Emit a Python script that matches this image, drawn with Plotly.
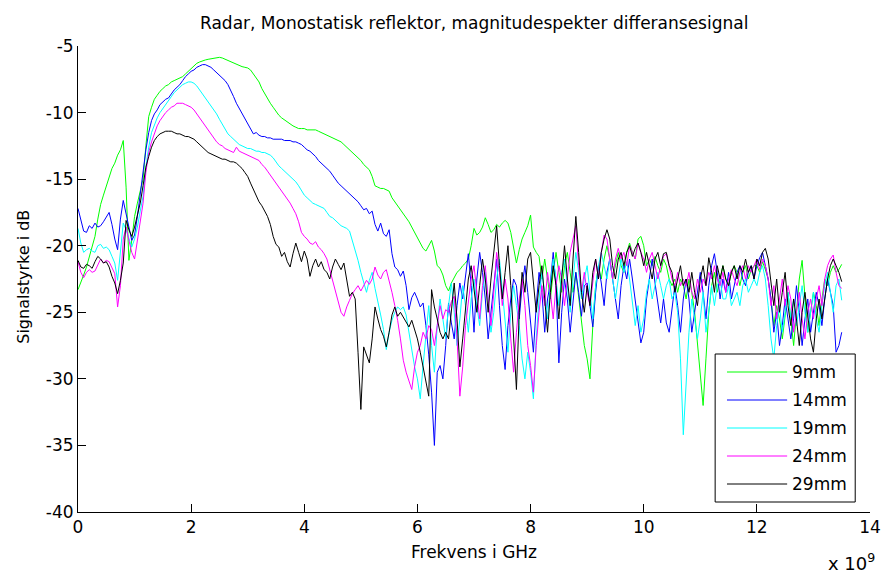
import numpy as np
import plotly.graph_objects as go

# Frequency grid: 0 .. 13.5 GHz in 0.05 GHz steps (values in Hz)
freq_hz = np.arange(271) * 0.05e9

series_names = ["9mm", "14mm", "19mm", "24mm", "29mm"]
series_colors = ["#00ff00", "#0000ff", "#00ffff", "#ff00ff", "#000000"]

# Magnitude spectrum of the difference signal, dB (one row per GHz)
mag_9mm = [
    -23.3, -22.8, -22.2, -21.6, -20.8, -20.0, -19.3, -18.0, -16.9, -16.2, -15.5, -14.8, -14.2, -13.8, -13.2, -12.8, -12.1, -15.6, -21.1, -19.6,
    -17.8, -16.8, -15.8, -15.0, -12.5, -10.3, -9.6, -9.0, -8.7, -8.4, -8.2, -8.0, -7.9, -7.7, -7.6, -7.5, -7.4, -7.3, -7.1, -6.9,
    -6.7, -6.5, -6.3, -6.2, -6.1, -6.05, -6.0, -5.95, -5.9, -5.85, -5.85, -5.9, -6.0, -6.1, -6.2, -6.3, -6.4, -6.5, -6.55, -6.6,
    -6.65, -6.8, -7.1, -7.4, -7.7, -8.2, -8.6, -9.0, -9.3, -9.6, -9.9, -10.2, -10.4, -10.55, -10.75, -10.9, -11.0, -11.1, -11.2, -11.2,
    -11.2, -11.3, -11.3, -11.3, -11.3, -11.4, -11.5, -11.6, -11.7, -11.8, -11.9, -12.0, -12.1, -12.2, -12.4, -12.6, -12.8, -13.0, -13.2, -13.4,
    -13.6, -13.9, -14.1, -14.3, -14.8, -15.5, -15.6, -15.7, -15.7, -15.8, -15.9, -16.4, -16.7, -17.0, -17.3, -17.6, -17.9, -18.2, -18.6, -19.0,
    -19.5, -19.9, -20.2, -20.4, -20.0, -19.6, -20.4, -21.5, -21.7, -22.2, -23.0, -23.4, -22.8, -22.4, -22.0, -21.8, -21.5, -21.3, -21.0, -20.0,
    -18.7, -19.2, -19.0, -18.6, -17.9, -18.4, -19.0, -18.8, -18.4, -18.6, -18.3, -18.1, -18.3, -19.0, -20.2, -21.3, -20.3, -19.5, -19.0, -18.5,
    -17.7, -20.1, -20.5, -20.8, -22.5, -21.0, -22.5, -24.0, -22.0, -20.5, -22.0, -23.5, -21.5, -20.5, -22.0, -23.5, -22.0, -24.0, -26.0, -27.5,
    -28.5, -30.0, -26.0, -23.0, -21.5, -22.5, -21.0, -20.0, -21.0, -22.5, -21.5, -20.5, -21.5, -22.0, -20.5, -19.8, -20.5, -21.0, -19.5, -19.3,
    -20.0, -21.5, -21.0, -21.5, -20.8, -21.5, -22.0, -21.0, -21.5, -22.5, -23.0, -22.5, -23.5, -22.5, -23.0, -24.0, -22.5, -23.5, -25.0, -27.5,
    -29.5, -32.0, -28.5, -25.0, -23.0, -22.0, -23.5, -22.5, -21.5, -22.5, -23.0, -22.0, -21.5, -22.0, -23.0, -22.0, -21.5, -22.5, -21.8, -21.5,
    -21.5, -22.0, -21.2, -21.8, -22.5, -24.0, -26.0, -24.5, -25.5, -27.0, -25.0, -23.5, -25.5, -27.5, -25.0, -22.5, -21.1, -24.0, -26.5, -25.0,
    -23.5, -24.5, -26.0, -24.0, -22.5, -23.0, -22.0, -21.5, -22.0, -21.8, -21.4,
]

mag_14mm = [
    -17.2, -18.0, -18.9, -19.0, -18.5, -18.7, -18.3, -18.6, -18.5, -18.2, -17.8, -17.5, -18.4, -19.5, -20.3, -18.0, -16.6, -17.5, -18.6, -19.6,
    -19.2, -17.8, -16.0, -14.6, -12.8, -11.5, -10.6, -10.1, -9.8, -9.4, -9.2, -9.0, -8.9, -8.6, -8.3, -8.1, -7.9, -7.6, -7.3, -7.1,
    -6.9, -6.8, -6.6, -6.5, -6.4, -6.4, -6.5, -6.6, -6.8, -7.0, -7.2, -7.4, -7.6, -7.9, -8.3, -8.8, -9.3, -9.7, -10.1, -10.5,
    -10.9, -11.3, -11.6, -11.5, -11.7, -11.8, -11.8, -11.9, -11.9, -12.0, -12.0, -12.0, -12.0, -12.1, -12.1, -12.1, -12.2, -12.2, -12.3, -12.4,
    -12.6, -12.8, -12.9, -13.1, -13.3, -13.6, -13.8, -14.0, -14.2, -14.4, -14.7, -15.0, -15.3, -15.5, -15.7, -15.9, -16.1, -16.3, -16.5, -16.7,
    -17.0, -17.3, -17.2, -17.6, -17.4, -18.4, -18.9, -18.3, -19.1, -19.3, -18.8, -20.6, -21.6, -21.8, -22.3, -21.9, -23.0, -24.8, -23.9, -23.5,
    -24.0, -24.6, -24.3, -26.0, -28.2, -31.0, -35.0, -29.5, -29.0, -30.0, -27.5, -24.3, -25.8, -27.0, -24.5, -22.8, -24.0, -22.4, -20.6, -23.0,
    -26.5, -22.5, -20.5, -22.0, -24.0, -27.0, -25.0, -23.1, -21.0, -24.5, -27.5, -29.3, -26.0, -24.0, -22.5, -23.0, -25.5, -23.0, -21.5, -23.5,
    -26.0, -28.0, -24.5, -22.0, -23.5, -26.5, -24.0, -22.8, -20.5, -23.0, -28.8, -25.0, -22.5, -24.0, -26.5, -24.5, -22.0, -23.5, -25.3, -23.0,
    -22.8, -24.5, -26.1, -23.5, -21.5, -22.8, -24.5, -22.0, -21.0, -22.5, -24.0, -25.5, -23.0, -21.5, -22.5, -21.0, -22.5, -24.0, -25.5, -27.3,
    -26.5, -24.0, -22.5, -21.0, -22.8, -24.5, -25.8, -24.0, -25.8, -26.5, -24.5, -23.0, -24.5, -26.5, -24.0, -22.5, -24.0, -26.5, -25.0, -23.5,
    -22.0, -23.5, -25.5, -23.0, -21.5, -20.6, -22.0, -24.0, -22.5, -23.5, -22.0, -24.0, -23.1, -22.0, -21.5, -22.5, -23.0, -22.0, -21.5, -22.5,
    -21.5, -20.9, -20.5, -21.5, -22.5, -24.0, -26.5, -25.0, -27.5, -26.0, -24.0, -25.5, -27.0, -25.5, -23.0, -25.0, -27.5, -25.5, -24.0, -26.5,
    -25.0, -23.5, -24.5, -26.0, -24.0, -22.5, -23.5, -24.5, -28.0, -27.5, -26.5,
]

mag_19mm = [
    -18.7, -19.8, -20.5, -20.3, -20.2, -20.4, -20.5, -20.0, -19.9, -20.2, -20.1, -20.3, -20.8, -21.3, -22.6, -20.5, -18.3, -18.8, -19.5, -20.1,
    -19.5, -18.6, -17.4, -16.3, -14.1, -12.6, -11.5, -10.9, -10.4, -10.0, -9.7, -9.4, -9.1, -8.8, -8.5, -8.3, -8.1, -7.9, -7.8, -7.7,
    -7.7, -7.8, -8.0, -8.3, -8.6, -8.9, -9.2, -9.5, -9.8, -10.1, -10.5, -10.9, -11.3, -11.6, -11.8, -12.0, -12.2, -12.4, -12.5, -12.6,
    -12.7, -12.7, -12.8, -12.9, -12.9, -13.0, -13.0, -13.1, -13.2, -13.4, -13.7, -14.0, -14.2, -14.4, -14.6, -14.8, -15.0, -15.2, -15.5, -15.9,
    -16.2, -16.4, -16.6, -16.8, -16.9, -17.0, -17.1, -17.2, -17.5, -17.8, -17.9, -18.1, -18.3, -18.5, -18.6, -18.7, -18.9, -19.6, -20.4, -21.1,
    -22.0, -22.8, -23.5, -22.6, -22.0, -23.2, -24.1, -25.2, -26.3, -27.8, -26.5, -25.6, -25.0, -24.6, -24.8, -24.6, -25.2, -26.5, -27.5, -29.1,
    -30.0, -31.5, -29.0, -26.5, -24.5, -27.5, -29.5, -26.0, -24.0, -25.5, -27.0, -24.5, -22.8, -25.0, -27.5, -25.5, -23.0, -24.5, -26.5, -24.0,
    -22.5, -24.5, -26.0, -23.5, -22.0, -24.0, -26.5, -25.0, -22.5, -21.0, -23.5, -26.0, -28.0, -25.0, -23.0, -24.5, -26.0, -28.5, -30.0, -28.0,
    -29.5, -31.5, -27.0, -24.0, -22.0, -23.5, -25.5, -23.0, -21.0, -22.5, -24.5, -22.0, -21.0, -23.0, -25.0, -22.5, -20.5, -22.0, -24.0, -22.5,
    -21.5, -23.5, -25.5, -23.0, -21.5, -20.5, -21.5, -22.5, -21.0, -22.5, -24.0, -22.5, -21.0, -22.0, -21.2, -22.5, -24.5, -26.0, -24.5, -26.5,
    -25.5, -23.5, -22.5, -24.0, -23.0, -22.0, -23.0, -24.0, -23.0, -22.5, -24.0, -23.5, -25.0, -28.5, -34.2, -30.5, -26.5, -24.0, -25.5, -27.0,
    -25.5, -23.5, -26.5, -25.0, -23.0, -24.5, -23.0, -22.5, -24.0, -24.0, -23.0, -24.5, -24.0, -23.5, -24.5, -23.0, -22.5, -23.5, -23.0, -22.5,
    -23.0, -22.0, -21.5, -22.5, -24.5, -27.0, -28.5, -26.0, -24.5, -26.5, -25.0, -23.5, -25.5, -24.0, -26.0, -24.5, -23.0, -25.0, -26.5, -25.0,
    -23.5, -25.5, -26.5, -24.5, -23.0, -22.0, -23.5, -25.0, -23.0, -22.5, -24.1,
]

mag_24mm = [
    -21.2, -22.0, -22.4, -22.0, -21.8, -22.0, -21.9, -21.5, -21.0, -21.3, -21.1, -21.2, -21.6, -22.1, -24.6, -23.0, -19.5, -18.6, -19.6, -20.5,
    -21.0, -19.5, -18.1, -16.8, -14.5, -13.0, -12.2, -11.6, -11.0, -10.6, -10.3, -10.0, -9.8, -9.6, -9.5, -9.3, -9.3, -9.3, -9.4, -9.5,
    -9.6, -9.8, -10.1, -10.4, -10.7, -11.0, -11.3, -11.6, -11.9, -12.2, -12.4, -12.5, -12.7, -12.8, -12.9, -13.0, -12.6, -12.9, -13.0, -13.1,
    -13.2, -13.3, -13.4, -13.5, -13.6, -13.9, -14.1, -14.4, -14.7, -15.0, -15.3, -15.6, -15.9, -16.2, -16.5, -16.8, -17.2, -17.6, -18.2, -19.0,
    -19.3, -19.5, -19.8, -19.9, -19.7, -20.1, -20.3, -20.6, -21.0, -21.8, -22.5, -23.3, -24.2, -25.0, -25.3, -24.6, -24.1, -23.6, -23.3, -23.0,
    -23.4, -23.0, -22.6, -22.9, -22.5, -21.6, -22.2, -22.5, -22.0, -21.8, -22.6, -23.5, -24.5, -25.6, -27.0, -28.6, -29.5, -30.2, -30.8, -29.1,
    -28.0, -27.5, -26.5, -27.0, -26.0, -26.3, -27.5, -26.0, -24.5, -25.5, -24.8, -25.0, -24.2, -23.8, -27.0, -31.3, -29.1, -26.0, -24.0, -22.5,
    -21.5, -23.5, -25.5, -23.0, -21.5, -24.0, -26.0, -23.5, -20.5, -22.0, -24.5, -22.5, -24.0, -27.0, -29.5, -26.5, -24.0, -22.5, -24.5, -27.5,
    -29.0, -31.0, -27.5, -25.0, -23.0, -24.5, -22.0, -23.5, -25.5, -23.0, -21.5, -22.5, -24.5, -22.5, -20.5, -19.5, -18.5, -21.5, -23.5, -22.0,
    -23.5, -24.5, -22.5, -21.0, -22.5, -20.5, -19.2, -19.5, -21.0, -22.5, -21.0, -20.2, -21.0, -20.5, -21.5, -20.0, -20.5, -21.0, -19.8, -20.5,
    -21.0, -22.0, -21.0, -20.5, -21.5, -22.5, -21.5, -20.8, -20.6, -21.5, -22.5, -23.0, -22.0, -23.0, -22.5, -23.0, -22.0, -23.5, -24.0, -22.5,
    -23.5, -22.5, -23.0, -22.0, -22.5, -21.5, -22.5, -23.0, -22.0, -23.5, -22.5, -21.8, -22.5, -23.0, -22.0, -21.5, -22.5, -21.5, -22.0, -21.5,
    -21.0, -21.8, -21.0, -21.5, -22.5, -24.5, -23.0, -25.5, -24.0, -22.5, -24.5, -23.0, -24.0, -26.5, -25.0, -23.5, -25.5, -27.0, -25.0, -24.0,
    -25.5, -24.0, -23.0, -24.5, -22.5, -21.5, -21.0, -20.7, -22.0, -23.0, -23.2,
]

mag_29mm = [
    -21.1, -21.6, -21.7, -21.4, -21.5, -21.7, -21.2, -20.8, -21.0, -21.3, -21.2, -21.6, -22.3, -22.8, -23.6, -22.6, -21.3, -18.1, -18.8, -19.3,
    -18.6, -17.6, -16.8, -15.5, -14.1, -13.3, -12.6, -12.1, -11.8, -11.6, -11.5, -11.4, -11.4, -11.4, -11.5, -11.6, -11.6, -11.7, -11.8, -11.8,
    -11.9, -12.0, -12.2, -12.4, -12.6, -12.8, -13.0, -13.1, -13.2, -13.3, -13.4, -13.5, -13.5, -13.6, -13.7, -13.7, -13.8, -14.0, -14.2, -14.5,
    -14.8, -15.3, -15.8, -16.3, -16.7, -17.0, -17.4, -17.8, -18.4, -19.3, -19.9, -20.1, -20.8, -20.5, -21.2, -21.6, -20.6, -19.8, -20.5, -21.2,
    -20.4, -21.0, -22.3, -21.5, -21.0, -21.6, -21.2, -21.8, -22.0, -22.5, -21.6, -21.0, -21.4, -21.8, -21.3, -22.6, -23.8, -23.5, -24.0, -28.0,
    -32.3, -27.6, -28.2, -28.8, -27.0, -24.6, -25.5, -26.3, -26.8, -27.6, -26.5, -25.2, -24.6, -25.3, -25.0, -25.4, -25.8, -26.1, -25.6, -26.3,
    -27.0, -28.0, -29.1, -30.0, -31.3, -23.3, -24.6, -25.5, -26.5, -27.0, -26.5, -27.0, -25.0, -22.8, -25.5, -29.1, -27.0, -24.5, -22.5, -21.5,
    -23.5, -25.0, -23.0, -21.0, -22.5, -25.0, -22.5, -20.5, -18.5, -21.5, -24.0, -22.0, -20.0, -23.0, -26.5, -30.8, -25.0, -22.0, -23.5, -21.0,
    -20.5, -22.5, -25.0, -23.0, -21.5, -24.0, -26.5, -23.5, -21.5, -23.0, -25.5, -22.5, -20.0, -22.5, -24.5, -21.0, -17.8, -20.5, -23.5, -25.0,
    -23.0, -24.5, -22.0, -21.0, -22.5, -20.5, -19.5, -18.8, -19.5, -21.5, -22.5, -21.0, -20.5, -21.5, -20.5, -20.0, -20.8, -20.2, -19.8, -20.5,
    -21.5, -20.5, -21.5, -22.5, -21.0, -20.5, -21.5, -20.6, -20.5, -21.5, -22.0, -23.5, -22.5, -21.5, -23.0, -22.5, -23.5, -22.0, -23.5, -24.5,
    -22.5, -21.5, -23.0, -20.9, -22.0, -23.5, -21.5, -22.5, -21.5, -22.5, -23.0, -22.0, -21.5, -22.5, -21.5, -22.0, -21.0, -22.0, -21.5, -22.5,
    -21.0, -21.5, -20.5, -20.2, -21.0, -23.0, -24.5, -22.5, -25.0, -23.5, -22.0, -24.5, -26.0, -24.0, -25.5, -27.5, -25.0, -23.5, -25.5, -27.0,
    -28.0, -25.5, -24.0, -25.5, -24.0, -22.5, -21.5, -21.0, -21.5, -22.0, -22.7,
]

series_values = [mag_9mm, mag_14mm, mag_19mm, mag_24mm, mag_29mm]

x_tick_vals = [0, 2e9, 4e9, 6e9, 8e9, 10e9, 12e9, 14e9]
x_tick_text = ["0", "2", "4", "6", "8", "10", "12", "14"]
y_tick_vals = [-40, -35, -30, -25, -20, -15, -10, -5]
y_tick_text = ["-40", "-35", "-30", "-25", "-20", "-15", "-10", "-5"]

FONT = "DejaVu Sans, Verdana, sans-serif"
FS = 17
W, H = 893, 574
L, R, T, B = 78, 12, 46, 62
PW, PH = W - L - R, H - T - B


def px_x(px):
    """Horizontal pixel position -> paper coordinate."""
    return (px - L) / PW


def px_y(py):
    """Vertical pixel position -> paper coordinate."""
    return (H - B - py) / PH


fig = go.Figure()
for name, color, vals in zip(series_names, series_colors, series_values):
    assert len(vals) == len(freq_hz), name
    fig.add_trace(go.Scatter(
        x=freq_hz, y=vals, mode="lines", name=name,
        line=dict(color=color, width=1), showlegend=False,
    ))

# Boxed legend in the lower right corner
shapes = [dict(
    type="rect", xref="paper", yref="paper", layer="above",
    x0=px_x(724), x1=px_x(866), y0=px_y(502), y1=px_y(354),
    line=dict(color="black", width=1), fillcolor="white",
)]
annotations = []
row_px = [372, 400, 428, 456, 484]
for name, color, py in zip(series_names, series_colors, row_px):
    shapes.append(dict(
        type="line", xref="paper", yref="paper", layer="above",
        x0=px_x(736), x1=px_x(797), y0=px_y(py), y1=px_y(py),
        line=dict(color=color, width=1),
    ))
    annotations.append(dict(
        xref="paper", yref="paper", x=px_x(800), y=px_y(py),
        xanchor="left", yanchor="middle", text=name, showarrow=False,
        font=dict(family=FONT, size=FS, color="black"),
    ))

# Axis labels, title and exponent
annotations += [
    dict(xref="paper", yref="paper", x=0.5, y=px_y(552), xanchor="center",
         yanchor="middle", text="Frekvens i GHz", showarrow=False,
         font=dict(family=FONT, size=FS, color="black")),
    dict(xref="paper", yref="paper", x=px_x(22), y=px_y(277), xanchor="center",
         yanchor="middle", text="Signalstyrke i dB", textangle=-90,
         showarrow=False, font=dict(family=FONT, size=16, color="black")),
    dict(xref="paper", yref="paper", x=0.5, y=px_y(23), xanchor="center",
         yanchor="middle",
         text="Radar, Monostatisk reflektor, magnitudespekter differansesignal",
         showarrow=False, font=dict(family=FONT, size=FS, color="black")),
    dict(xref="paper", yref="paper", x=px_x(836), y=px_y(562), xanchor="left",
         yanchor="middle", text="x 10<sup>9</sup>", showarrow=False,
         font=dict(family=FONT, size=18, color="black")),
]

axis_common = dict(
    showline=True, linecolor="black", linewidth=1, mirror=False,
    ticks="inside", ticklen=8, tickwidth=1, tickcolor="black",
    showgrid=False, zeroline=False,
    tickfont=dict(family=FONT, size=FS, color="black"),
)

fig.update_layout(
    width=W, height=H,
    margin=dict(l=L, r=R, t=T, b=B, pad=0),
    paper_bgcolor="white", plot_bgcolor="white",
    showlegend=False,
    xaxis=dict(range=[0, 14e9], tickvals=x_tick_vals, ticktext=x_tick_text,
               **axis_common),
    yaxis=dict(range=[-40, -5], tickvals=y_tick_vals, ticktext=y_tick_text,
               **axis_common),
    shapes=shapes, annotations=annotations,
)

fig.write_html("out.html")
